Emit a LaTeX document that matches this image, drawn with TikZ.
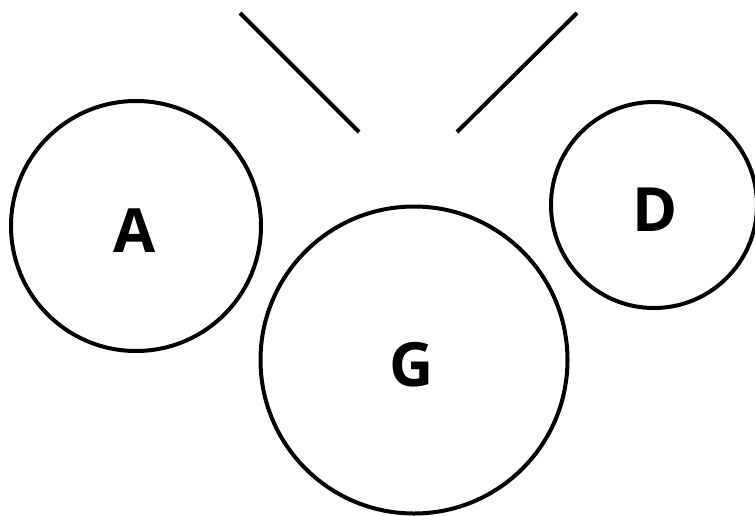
\documentclass[tikz,border=0pt]{standalone}
\usepackage{fontspec}
\setmainfont{Open Sans}
\begin{document}
\begin{tikzpicture}[x=1pt,y=-1pt,
  circ/.style={draw=black,line width=4pt,circle,inner sep=0pt},
  lbl/.style={font=\fontsize{61}{61}\selectfont\bfseries,inner sep=0pt,anchor=base},
  seg/.style={draw=black,line width=4pt}]
\useasboundingbox (0,0) rectangle (755,515);
\node[circ,minimum size=250pt] (A) at (136,226) {};
\node[circ,minimum size=307pt] (G) at (414,360) {};
\node[circ,minimum size=206pt] (D) at (654,205) {};
\node[lbl] (tA) at (135,252) {A};
\node[lbl] (tG) at (412,386) {G};
\node[lbl] (tD) at (655,231) {D};
\coordinate (l1) at (240,13);
\coordinate (l2) at (359,132);
\coordinate (r1) at (577,13);
\coordinate (r2) at (457,132);
\draw[seg] (l1) -- (l2);
\draw[seg] (r1) -- (r2);
\end{tikzpicture}
\end{document}
